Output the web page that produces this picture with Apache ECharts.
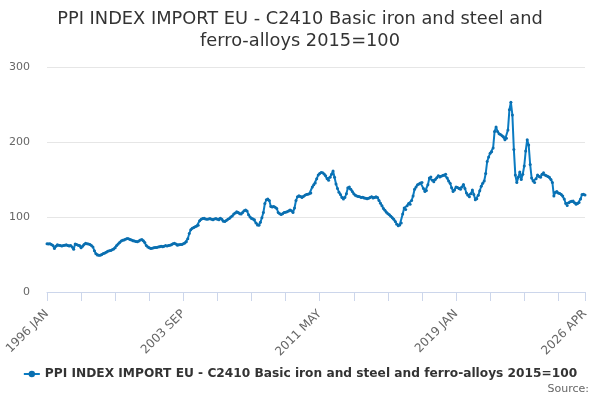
<!DOCTYPE html>
<html>
<head>
<meta charset="utf-8">
<script src="https://cdn.jsdelivr.net/npm/echarts@6/dist/echarts.min.js"></script>
<style>
html, body { margin: 0; padding: 0; background: #fff; }
#chart { width: 600px; height: 400px; }
</style>
</head>
<body>
<div id="chart"></div>
<script>
var seriesName = 'PPI INDEX IMPORT EU - C2410 Basic iron and steel and ferro-alloys 2015=100';
var monthNames = ['JAN', 'FEB', 'MAR', 'APR', 'MAY', 'JUN', 'JUL', 'AUG', 'SEP', 'OCT', 'NOV', 'DEC'];
var firstYear = 1996;

// monthly index values, one row per year (1996 JAN .. 2026 APR)
var ppiValues = [
	64.5, 64, 64.5, 63.5, 62, 58, 61, 63, 62.5, 62, 61.5, 62,
	62.5, 63, 62, 61.5, 62, 60, 57, 64, 63.5, 62.5, 62, 59,
	61, 63.5, 65, 64.5, 64, 63.5, 62, 60, 55, 51, 49.5, 49,
	49, 50, 51.5, 52, 53, 54.5, 55, 55.5, 56.5, 57.5, 59, 62,
	64, 66, 68, 69, 69.5, 70.5, 71.5, 71, 70, 69.5, 68.5, 68,
	67.5, 67, 68, 69.5, 70, 68.5, 66, 62, 60, 59, 58, 58.5,
	59, 59.5, 59.5, 60, 60.5, 61, 60.5, 61, 62, 61.5, 62, 62.5,
	63, 64.5, 65, 64, 62.5, 63, 63.5, 63.5, 64.5, 65.5, 67, 71,
	78, 83, 85, 86, 87, 88, 89, 95, 97, 98, 98.5, 97.5,
	97, 97.5, 98, 97, 96.5, 97.5, 98, 97, 96.5, 98.5, 97, 94.5,
	94, 95.5, 97, 98, 100, 101.5, 104, 105.5, 107, 106, 104.5, 104,
	106, 108.5, 109.5, 108, 103, 100, 98, 97.5, 96.5, 92, 89.5, 89,
	93, 99, 106, 118, 123, 124, 122, 114, 113.5, 114, 113, 111.5,
	106, 104.5, 103.5, 104.5, 106, 106.5, 107, 108, 109.5, 108.5, 106, 112,
	122, 127, 128.5, 127.5, 126, 127.5, 129, 130, 130.5, 131, 132, 140,
	143, 145.5, 151, 156, 158, 159.5, 159, 157.5, 155, 151, 149, 153,
	157, 161.5, 153, 144, 138, 133, 130, 126, 124, 126, 131, 139,
	140, 137, 134, 131, 129, 128, 127.5, 127, 126, 126.5, 125.5, 125,
	124.5, 125, 126, 127, 125.5, 126, 127, 126, 122, 118.5, 115, 111.5,
	109, 106.5, 104.5, 103, 101, 99, 97, 94, 90.5, 88.5, 89.5, 92,
	104, 112, 110, 115, 118, 117, 122, 128, 137, 140, 143, 144,
	145.5, 146, 138, 134, 135.5, 143, 152, 153.5, 149, 147, 150, 152.5,
	155, 153.5, 154.5, 155.5, 156, 157, 152, 148, 145, 139, 134, 136,
	140, 139.5, 138, 137, 140, 143.5, 138, 132, 129, 127, 131, 136,
	130, 123, 124.5, 129, 135, 141, 145, 148, 158, 174, 180, 185,
	187, 192, 214, 220, 214, 211, 210, 208.5, 207, 203, 205, 216,
	243, 253, 236, 190, 156, 146, 153, 160, 150, 157, 168, 188,
	203, 196, 170, 152, 148, 146, 151, 156, 154, 153, 157, 159,
	156, 155, 154, 153, 150, 146, 128, 133, 134, 132, 131.5, 130,
	128, 124, 118, 115.5, 119, 120.5, 121, 121.5, 119, 117, 118, 119.5,
	124, 130, 130.5, 129.5
];

var yTicks = [0, 100, 200, 300];

// category labels "1996 JAN" ...
var months = [];
for (var i = 0; i < ppiValues.length; i++) {
	months.push((firstYear + Math.floor(i / 12)) + ' ' + monthNames[i % 12]);
}
var lastIndex = months.length - 1;

var myChart = echarts.init(document.getElementById('chart'));

var option = {
	animation: false,
	title: [{
		text: 'PPI INDEX IMPORT EU - C2410 Basic iron and steel and\nferro-alloys 2015=100',
		left: 'center',
		top: 3,
		textStyle: {
			fontFamily: 'DejaVu Sans',
			fontSize: 17.8,
			fontWeight: 'normal',
			color: '#333',
			lineHeight: 22
		}
	}, {
		text: 'Source:',
		right: 6,
		bottom: 0,
		textStyle: {
			fontFamily: 'DejaVu Sans',
			fontSize: 11,
			fontWeight: 'normal',
			color: '#666'
		}
	}],
	legend: {
		bottom: 15,
		left: 'center',
		itemWidth: 16,
		itemHeight: 8,
		itemGap: 6,
		data: [seriesName],
		textStyle: {
			fontFamily: 'DejaVu Sans',
			fontSize: 12.2,
			fontWeight: 'bold',
			color: '#333'
		}
	},
	grid: {
		left: 47,
		right: 15,
		top: 67,
		bottom: 108
	},
	xAxis: {
		type: 'category',
		boundaryGap: false,
		data: months,
		axisLine: { lineStyle: { color: '#ccd6eb' } },
		axisTick: {
			length: 9,
			lineStyle: { color: '#ccd6eb' },
			interval: function (index) {
				return index % 23 === 0 || index === lastIndex;
			}
		},
		axisLabel: {
			rotate: 45,
			color: '#666',
			fontFamily: 'DejaVu Sans',
			fontSize: 12,
			margin: 20,
			interval: function (index) {
				return index % 92 === 0 || index === lastIndex;
			}
		},
		splitLine: { show: false }
	},
	yAxis: {
		type: 'value',
		min: yTicks[0],
		max: yTicks[yTicks.length - 1],
		interval: 100,
		axisLine: { show: false },
		axisTick: { show: false },
		axisLabel: {
			color: '#666',
			fontFamily: 'DejaVu Sans',
			fontSize: 11,
			margin: 17
		},
		splitLine: { lineStyle: { color: '#e6e6e6' } }
	},
	series: [{
		name: seriesName,
		type: 'line',
		data: ppiValues,
		color: '#0a7bc2',
		symbol: 'circle',
		symbolSize: 3,
		showAllSymbol: true,
		lineStyle: { width: 2, color: '#0a7bc2' },
		itemStyle: { color: '#0a6fb0' }
	}]
};

myChart.setOption(option);
</script>
</body>
</html>
